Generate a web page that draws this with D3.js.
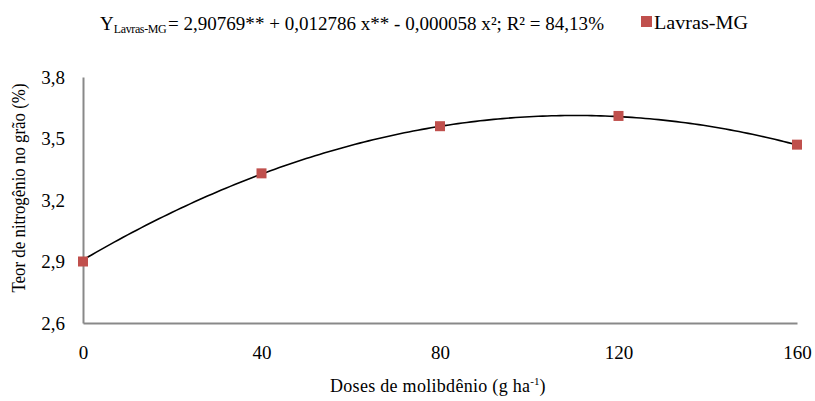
<!DOCTYPE html>
<html>
<head>
<meta charset="utf-8">
<script src="https://cdn.jsdelivr.net/npm/d3@7"></script>
<style>
  body { margin: 0; background: #fff; }
  svg text { font-family: 'Liberation Serif'; }
</style>
</head>
<body>
<svg id="chart"></svg>
<script>
const doses = [0, 40, 80, 120, 160]
const nitrogen = [2.9, 3.33, 3.56, 3.61, 3.47]
const xTicks = [0, 40, 80, 120, 160]
const yTicks = [2.6, 2.9, 3.2, 3.5, 3.8]
// trend line coefficients as printed on the chart (a + b x + c x²)
const coef = [2.90769, 0.012786, -0.000058]

const width = 815
const height = 401
const margin = { top: 77, right: 18, bottom: 78, left: 83 }
const serif = 'Liberation Serif'

const svg = d3.select('#chart').attr('width', width).attr('height', height)

const x = d3.scaleLinear().domain([0, 160]).range([margin.left, width - margin.right])
const y = d3.scaleLinear().domain([2.6, 3.8]).range([height - margin.bottom, margin.top])

const fmt = (d) => d3.format('.1f')(d).replace('.', ',')

// axes
const xAxis = svg.append('g')
    .attr('transform', `translate(0, ${y(2.6)})`)
    .call(d3.axisBottom(x).tickValues(xTicks).tickSize(0).tickPadding(23).tickFormat(d3.format('d')))
const yAxis = svg.append('g')
    .attr('transform', `translate(${x(0)}, 0)`)
    .call(d3.axisLeft(y).tickValues(yTicks).tickSize(0).tickPadding(18).tickFormat(fmt))

for (const g of [xAxis, yAxis]) {
    g.attr('font-family', serif).attr('font-size', 19)
    g.select('.domain').attr('stroke', '#898989').attr('stroke-width', 2)
    g.selectAll('text').attr('font-family', serif).attr('fill', '#000')
}

// trend line
const curveX = d3.range(0, 160.5, 1)
const line = d3.line()
    .x((d) => x(d))
    .y((d) => y(coef[0] + coef[1] * d + coef[2] * d * d))
svg.append('path')
    .datum(curveX)
    .attr('fill', 'none')
    .attr('stroke', '#000')
    .attr('stroke-width', 1.6)
    .attr('d', line)

// markers
svg.selectAll('rect.pt')
    .data(doses)
    .enter()
    .append('rect')
    .attr('class', 'pt')
    .attr('x', (d) => x(d) - 5)
    .attr('y', (d, i) => y(nitrogen[i]) - 5)
    .attr('width', 10)
    .attr('height', 10)
    .attr('fill', '#C0504D')

// axis titles
const xTitle = svg.append('text')
    .attr('x', 330)
    .attr('y', 392)
    .attr('font-family', serif)
    .attr('font-size', 18)
xTitle.append('tspan').attr('textLength', 200).attr('lengthAdjust', 'spacing').text('Doses de molibdênio (g ha')
xTitle.append('tspan').attr('dy', -7).attr('font-size', 11).text('-1')
xTitle.append('tspan').attr('dy', 7).text(')')

svg.append('text')
    .attr('transform', `translate(25, 188) rotate(-90)`)
    .attr('text-anchor', 'middle')
    .attr('textLength', 209)
    .attr('lengthAdjust', 'spacingAndGlyphs')
    .attr('font-family', serif)
    .attr('font-size', 18)
    .text('Teor de nitrogênio no grão (%)')

// equation
const eqY = svg.append('text')
    .attr('x', 100)
    .attr('y', 30)
    .attr('font-family', serif)
    .attr('font-size', 19)
eqY.append('tspan').text('Y')
eqY.append('tspan').attr('dy', 3).attr('font-size', 12).attr('textLength', 53).text('Lavras-MG')

svg.append('text')
    .attr('x', 168)
    .attr('y', 30)
    .attr('textLength', 436)
    .attr('lengthAdjust', 'spacingAndGlyphs')
    .attr('font-family', serif)
    .attr('font-size', 19)
    .text('=  2,90769** + 0,012786 x** - 0,000058 x²; R² = 84,13%')

// legend
svg.append('rect')
    .attr('x', 641)
    .attr('y', 16)
    .attr('width', 11)
    .attr('height', 11)
    .attr('fill', '#C0504D')
svg.append('text')
    .attr('x', 654)
    .attr('y', 29)
    .attr('textLength', 94)
    .attr('lengthAdjust', 'spacingAndGlyphs')
    .attr('font-family', serif)
    .attr('font-size', 19)
    .text('Lavras-MG')
</script>
</body>
</html>
